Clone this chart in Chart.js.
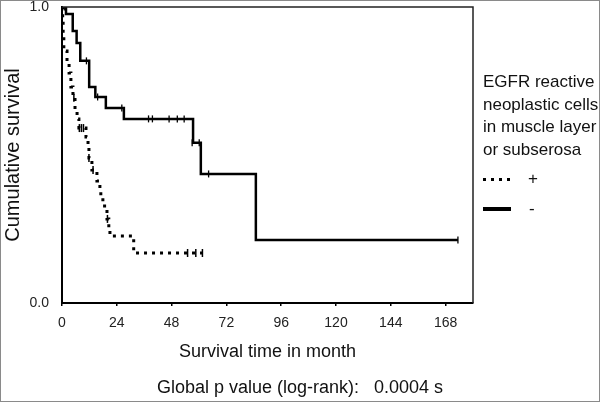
<!DOCTYPE html>
<html>
<head>
<meta charset="utf-8">
<script src="https://cdn.jsdelivr.net/npm/chart.js@4"></script>
<style>
  html, body { margin:0; padding:0; background:#fff; }
  #wrap { position:relative; width:600px; height:402px; box-sizing:border-box; border:1px solid #8a8a8a; overflow:hidden; font-family:"Liberation Sans", Arial, sans-serif; color:#111; }
  #wrap canvas { position:absolute; left:0; top:0; }
  .legtxt { position:absolute; left:482px; font-size:17px; line-height:22.5px; white-space:nowrap; }
  .footer { position:absolute; left:0; width:598px; text-align:center; top:376px; font-size:18px; white-space:pre; }
  .dotline { position:absolute; left:482px; width:27px; height:3px; background:repeating-linear-gradient(to right,#000 0 3px,transparent 3px 8px); }
  .solidline { position:absolute; left:482px; width:28px; height:4px; background:#000; }
  .sym { position:absolute; font-size:17px; line-height:20px; }
</style>
</head>
<body>
<div id="wrap">
  <canvas id="c" width="600" height="402"></canvas>
  <div class="legtxt" style="top:70px;">EGFR reactive<br>neoplastic cells<br>in muscle layer<br>or subserosa</div>
  <div class="dotline" style="top:177px;"></div>
  <div class="sym" style="left:527px; top:168px;">+</div>
  <div class="solidline" style="top:206px;"></div>
  <div class="sym" style="left:528px; top:198px;">-</div>
  <div class="footer">Global p value (log-rank):   0.0004 s</div>
</div>
<script>
// ---- data ----
const xTickValues = [0, 24, 48, 72, 96, 120, 144, 168];
const yTickValues = [0, 1];

// "-" group (solid): step times (months) and survival after each step
const solidTimes = [0, 1.75, 4.7, 6.4, 8.0, 11.9, 14.6, 19.2, 27.1, 57.4, 60.8, 84.9, 173.4];
const solidSurv  = [1.0, 0.976, 0.919, 0.878, 0.818, 0.730, 0.696, 0.659, 0.622, 0.541, 0.436, 0.213, 0.213];
// censored observations for "-"
const solidCensTimes = [1.0, 10.7, 15.6, 26.2, 37.9, 39.6, 46.9, 50.5, 53.5, 57.0, 60.1, 64.2, 173.4];
const solidCensSurv  = [1.0, 0.818, 0.696, 0.659, 0.622, 0.622, 0.622, 0.622, 0.622, 0.541, 0.541, 0.436, 0.213];

// "+" group (dotted)
const dottedTimes = [0, 0.3, 0.5, 0.8, 2.2, 3.1, 3.9, 4.8, 5.7, 6.6, 7.4, 10.5, 11.4, 11.8, 13.1, 15.3, 16.6, 17.0, 17.9, 19.7, 20.5, 21.0, 31.4, 62.0];
const dottedSurv  = [1.0, 0.953, 0.902, 0.851, 0.811, 0.777, 0.730, 0.693, 0.649, 0.622, 0.591, 0.561, 0.530, 0.490, 0.449, 0.412, 0.378, 0.355, 0.328, 0.284, 0.250, 0.226, 0.169, 0.169];
const dottedCensTimes = [5.2, 7.6, 8.5, 9.4, 11.8, 13.6, 19.9, 55.0, 58.6, 61.5];
const dottedCensSurv  = [0.693, 0.591, 0.591, 0.591, 0.490, 0.449, 0.284, 0.169, 0.169, 0.169];

const xLabel = "Survival time in month";
const yLabel = "Cumulative survival";

const pts = (xs, ys) => xs.map((x, i) => ({ x: x, y: ys[i] }));

const framePlugin = {
  id: 'frame',
  afterDatasetsDraw(chart) {
    const a = chart.chartArea, ctx = chart.ctx;
    ctx.save();
    ctx.strokeStyle = '#222';
    ctx.lineWidth = 1.5;
    ctx.beginPath();
    ctx.moveTo(a.left, a.top);
    ctx.lineTo(a.right, a.top);
    ctx.lineTo(a.right, a.bottom);
    ctx.stroke();
    ctx.restore();
  }
};

new Chart(document.getElementById('c'), {
  type: 'line',
  data: {
    datasets: [
      { data: pts(solidTimes, solidSurv), stepped: 'before', borderColor: '#000', borderWidth: 2.5, pointRadius: 0, fill: false },
      { data: pts(dottedTimes, dottedSurv), stepped: 'before', borderColor: '#000', borderWidth: 3, borderDash: [3, 5], borderCapStyle: 'butt', pointRadius: 0, fill: false },
      { data: pts(solidCensTimes, solidCensSurv), showLine: false, pointStyle: 'line', rotation: 90, pointRadius: 3.5, pointBorderWidth: 1.3, pointBorderColor: '#000' },
      { data: pts(dottedCensTimes, dottedCensSurv), showLine: false, pointStyle: 'line', rotation: 90, pointRadius: 4, pointBorderWidth: 1.5, pointBorderColor: '#000' }
    ]
  },
  options: {
    responsive: false,
    animation: false,
    devicePixelRatio: 1,
    layout: { padding: { left: 0, top: 6, right: 128, bottom: 40 } },
    plugins: { legend: { display: false }, tooltip: { enabled: false } },
    scales: {
      x: {
        type: 'linear', min: 0, max: 180,
        afterBuildTicks: s => { s.ticks = xTickValues.map(v => ({ value: v })); },
        afterFit: s => { s.height = 60; },
        grid: { drawOnChartArea: false, drawTicks: true, tickLength: 3, color: '#000', lineWidth: 1.5 },
        border: { color: '#000', width: 2 },
        ticks: { color: '#222', font: { family: 'Liberation Sans', size: 14 }, padding: 9, maxRotation: 0 },
        title: { display: true, text: xLabel, color: '#111', font: { family: 'Liberation Sans', size: 18 }, padding: { top: 0, bottom: 0 } }
      },
      y: {
        type: 'linear', min: 0, max: 1,
        afterBuildTicks: s => { s.ticks = yTickValues.map(v => ({ value: v })); },
        afterFit: s => { s.width = 61; },
        grid: { drawOnChartArea: false, drawTicks: true, tickLength: 13, tickColor: 'rgba(0,0,0,0)', lineWidth: 1 },
        border: { color: '#000', width: 2 },
        ticks: { color: '#222', font: { family: 'Liberation Sans', size: 14, lineHeight: 0.8 }, padding: 0, callback: v => v.toFixed(1) },
        title: { display: true, text: yLabel, color: '#111', font: { family: 'Liberation Sans', size: 20 }, padding: { top: 0, bottom: 0 } }
      }
    }
  },
  plugins: [framePlugin]
});
</script>
</body>
</html>
